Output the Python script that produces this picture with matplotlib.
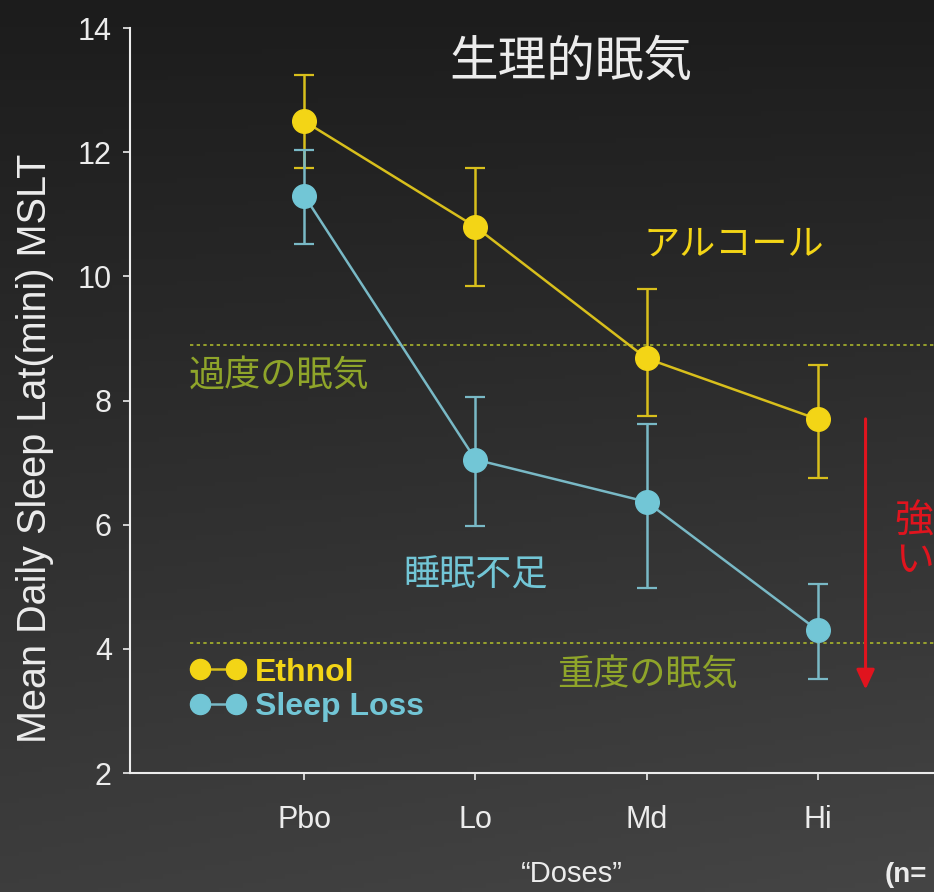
import numpy as np
import matplotlib
matplotlib.use("Agg")
import matplotlib.pyplot as plt

plt.rcParams['font.family'] = ['Liberation Sans', 'Noto Sans CJK JP', 'DejaVu Sans']

# ---- data ----
doses = ["Pbo", "Lo", "Md", "Hi"]
ethanol_mean = [12.5, 10.8, 8.68, 7.7]
ethanol_upper = [13.25, 11.75, 9.8, 8.57]
ethanol_lower = [11.75, 9.85, 7.75, 6.75]
sleep_mean = [11.3, 7.05, 6.37, 4.3]
sleep_upper = [12.03, 8.05, 7.62, 5.05]
sleep_lower = [10.52, 5.98, 4.98, 3.52]
excessive_level = 8.9
severe_level = 4.1
arrow_top = 7.75
arrow_bottom = 3.3

YELLOW = "#f3d516"
YELLOW_LINE = "#d8bf1c"
CYAN = "#72c6d6"
CYAN_LINE = "#79b9c6"
GREEN_TXT = "#8fa52a"
GREEN_DASH = "#a9b52c"
WHITE = "#ececec"

fig = plt.figure(figsize=(9.34, 8.92), dpi=100)

# background gradient
bg = fig.add_axes([0, 0, 1, 1], zorder=-10)
yy, xx = np.mgrid[0:1:200j, 0:1:200j]
val = 0.11 + 0.13 * yy + 0.03 * xx * yy
bg.imshow(np.dstack([val, val, val]), extent=[0, 1, 0, 1], aspect="auto", origin="upper")
bg.set_axis_off()

ax = fig.add_axes([0.139, 0.1334, 0.861, 0.835])
ax.patch.set_alpha(0)
x = np.arange(len(doses))

ax.axhline(excessive_level, xmin=0.075, xmax=1, color=GREEN_DASH, lw=1.2, ls=(0, (2, 2)), zorder=1)
ax.axhline(severe_level, xmin=0.075, xmax=1, color=GREEN_DASH, lw=1.2, ls=(0, (2, 2)), zorder=1)

def draw(mean, lo, hi, col, lcol, label):
    mean = np.array(mean)
    yerr = [mean - np.array(lo), np.array(hi) - mean]
    ax.errorbar(x, mean, yerr=yerr, fmt='none', ecolor=lcol, elinewidth=1.8,
                capsize=7.5, capthick=1.6, zorder=2)
    ax.plot(x, mean, color=lcol, lw=1.8, marker='o', ms=17, mfc=col, mec=col,
            zorder=3, label=label)

draw(ethanol_mean, ethanol_lower, ethanol_upper, YELLOW, YELLOW_LINE, "Ethnol")
draw(sleep_mean, sleep_lower, sleep_upper, CYAN, CYAN_LINE, "Sleep Loss")

ax.set_xlim(-1.02, 3.68)
ax.set_ylim(2, 14)
ax.set_xticks(x)
ax.set_xticklabels(doses)
ax.set_yticks([2, 4, 6, 8, 10, 12, 14])
for s in ["top", "right"]:
    ax.spines[s].set_visible(False)
for s in ["left", "bottom"]:
    ax.spines[s].set_color(WHITE)
    ax.spines[s].set_linewidth(1.5)
ax.tick_params(colors=WHITE, labelsize=22, length=5, width=1.2, direction='out', pad=8)
ax.tick_params(axis='x', pad=18)

fig.text(35 / 934, 1 - 448 / 892, "Mean Daily Sleep Lat(mini) MSLT", color=WHITE, fontsize=28.5,
         rotation=90, ha='center', va='center')
fig.text(572 / 934, 1 - 874 / 892, "\u201cDoses\u201d", color=WHITE, fontsize=21,
         ha='center', va='center')

# red arrow
ax.annotate("", xy=(3.28, arrow_bottom), xytext=(3.28, arrow_top),
            arrowprops=dict(arrowstyle="-|>,head_width=0.55,head_length=1.2", color="#e0141e", lw=2.2),
            annotation_clip=False)

jp = ['Noto Sans CJK JP', 'DejaVu Sans']
ax.text(1.56, 13.45, "生理的眠気", color=WHITE, fontsize=35, family=jp, ha='center', va='center')
ax.text(2.51, 10.52, "アルコール", color=YELLOW, fontsize=26, family=jp, ha='center', va='center')
ax.text(-0.146, 8.4, "過度の眠気", color=GREEN_TXT, fontsize=26, family=jp, ha='center', va='center')
ax.text(1.0, 5.2, "睡眠不足", color=CYAN, fontsize=26, family=jp, ha='center', va='center')
ax.text(1.48, 3.58, "重度の眠気", color=GREEN_TXT, fontsize=26, family=jp, ha='left', va='center')
ax.text(3.45, 5.73, "強\nい", color="#e0141e", fontsize=28, family=jp, ha='left', va='center',
        linespacing=1.0, clip_on=False)
fig.text(0.947, 0.005, "(n=", color=WHITE, fontsize=20, fontweight='bold', ha='left', va='bottom')

leg = ax.legend(loc='upper left', bbox_to_anchor=(0.06, 0.172), frameon=False, numpoints=2,
                handlelength=1.7, handletextpad=0.3, labelspacing=0.15, borderaxespad=0,
                markerscale=0.85, prop=dict(family='Liberation Sans', weight='bold', size=23))
for txt, c in zip(leg.get_texts(), [YELLOW, CYAN]):
    txt.set_color(c)

fig.savefig("out.png", dpi=100, facecolor="#222222")
